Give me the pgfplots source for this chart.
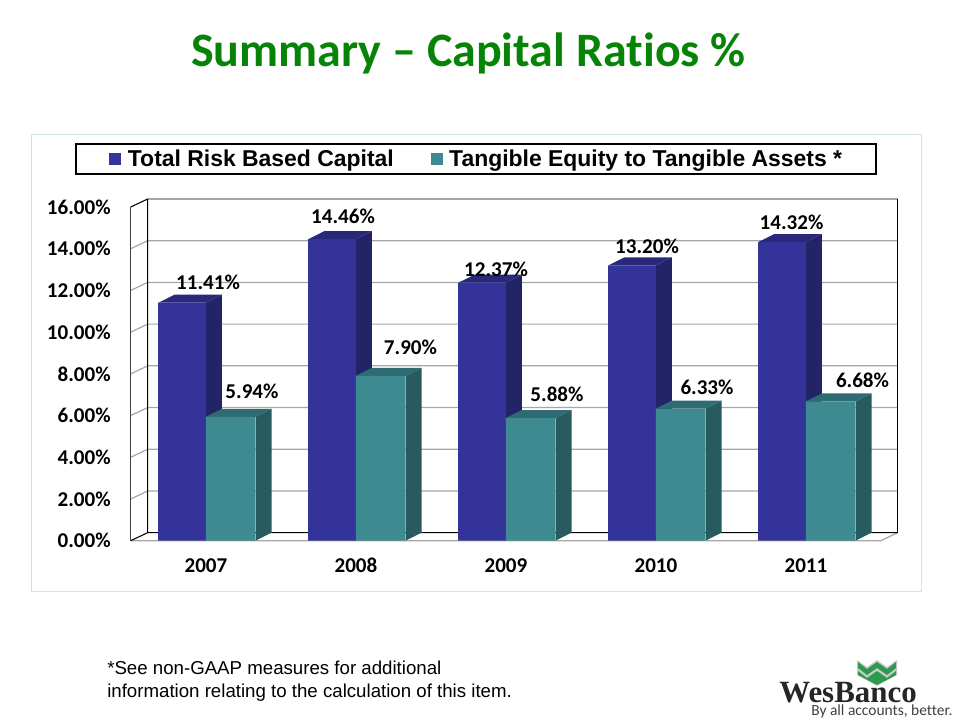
\documentclass[border=0pt]{standalone}
\usepackage{pgfplots}
\usepackage{fontspec}
\pgfplotsset{compat=1.18}
\setmainfont{Carlito}[Ligatures=NoCommon]
\newfontfamily\arialf{Liberation Sans}
\newfontfamily\serifl{Liberation Serif}
\definecolor{bfront}{HTML}{333399}
\definecolor{bside}{HTML}{232368}
\definecolor{btop}{HTML}{29297C}
\definecolor{tfront}{HTML}{3D8A91}
\definecolor{tside}{HTML}{285B60}
\definecolor{ttop}{HTML}{2F6C72}
\definecolor{gridg}{HTML}{A6A6A6}
\definecolor{frame}{HTML}{D0E4E6}
\definecolor{titleg}{HTML}{078407}
\definecolor{logog}{HTML}{2E9A4E}
\pgfplotsset{
 gl/.style={gridg,line width=0.9pt},
 bl/.style={black,line width=0.8pt},
}
\begin{document}
\begin{tikzpicture}[x=0.75pt,y=-0.75pt]
\useasboundingbox (0,0) rectangle (960,720);
\node[font=\fontsize{36}{40}\selectfont\bfseries,text=titleg,anchor=base] at (468.5,66.7) {Summary – Capital Ratios \%};
\draw[frame,line width=0.7pt] (31,134) rectangle (921,591);
\begin{axis}[
 at={(98.025pt,-405.525pt)},anchor=south west,
 scale only axis,width=575.25pt,height=256.275pt,
 xmin=0,xmax=5.1133,ymin=0,ymax=16.384,
 clip=false,axis line style={draw=none},major tick length=0pt,
 xtick={0.5,1.5,2.5,3.5,4.5},xticklabels={2007,2008,2009,2010,2011},
 ytick={0,2,4,6,8,10,12,14,16},
 yticklabels={0.00\%,2.00\%,4.00\%,6.00\%,8.00\%,10.00\%,12.00\%,14.00\%,16.00\%},
 tick label style={font=\fontsize{15.8}{18}\selectfont\bfseries},
 yticklabel style={anchor=east,xshift=-11.5pt},
 xticklabel style={anchor=center,yshift=-18.5pt,text height=10.5pt,text depth=0pt,xshift=0.2pt},
 legend style={at={(0.4502,1.117)},anchor=center,draw=black,line width=1.5pt,
   legend columns=2,font=\arialf\fontsize{17.2}{20}\selectfont\bfseries,
   inner xsep=23.75pt,inner ysep=2.5pt,
   /tikz/column 2/.style={column sep=24pt}},
 legend cell align=left,
 legend image code/.code={\fill[#1] (0pt,-4.5pt) rectangle (9pt,4.5pt);\path (-1.5pt,0pt) (12pt,0pt);},
]
\addlegendimage{draw=none,fill=bfront}
\addlegendentry{Total Risk Based Capital}
\addlegendimage{draw=none,fill=tfront}
\addlegendentry{Tangible Equity to Tangible Assets *}
% walls and grid
\addplot[gl] coordinates {(0,2) (0.1133,2.384) (5.1133,2.384)};
\addplot[gl] coordinates {(0,4) (0.1133,4.384) (5.1133,4.384)};
\addplot[gl] coordinates {(0,6) (0.1133,6.384) (5.1133,6.384)};
\addplot[gl] coordinates {(0,8) (0.1133,8.384) (5.1133,8.384)};
\addplot[gl] coordinates {(0,10) (0.1133,10.384) (5.1133,10.384)};
\addplot[gl] coordinates {(0,12) (0.1133,12.384) (5.1133,12.384)};
\addplot[gl] coordinates {(0,14) (0.1133,14.384) (5.1133,14.384)};
\addplot[gl] coordinates {(0.1133,16.384) (5.1133,16.384)};
\addplot[gl] coordinates {(0,0) (5,0) (5.1133,0.384)};
\addplot[bl] coordinates {(0,0) (0.1133,0.384) (5.1133,0.384)};
\addplot[bl] coordinates {(0.1133,0.384) (0.1133,16.384) (0,16)};
\addplot[bl] coordinates {(5.1133,0.384) (5.1133,16.384)};
\addplot[black!75,line width=1.1pt] coordinates {(0,0) (0,16)};
% Total Risk Based Capital: side and top faces
\addplot[fill=bside,draw=none] coordinates {(0.5,0) (0.607,0.384) (0.607,11.794) (0.5,11.41)} -- cycle;
\addplot[fill=btop,draw=none] coordinates {(0.184,11.41) (0.291,11.794) (0.607,11.794) (0.5,11.41)} -- cycle;
\addplot[fill=bside,draw=none] coordinates {(1.5,0) (1.607,0.384) (1.607,14.844) (1.5,14.46)} -- cycle;
\addplot[fill=btop,draw=none] coordinates {(1.184,14.46) (1.291,14.844) (1.607,14.844) (1.5,14.46)} -- cycle;
\addplot[fill=bside,draw=none] coordinates {(2.5,0) (2.607,0.384) (2.607,12.754) (2.5,12.37)} -- cycle;
\addplot[fill=btop,draw=none] coordinates {(2.184,12.37) (2.291,12.754) (2.607,12.754) (2.5,12.37)} -- cycle;
\addplot[fill=bside,draw=none] coordinates {(3.5,0) (3.607,0.384) (3.607,13.584) (3.5,13.20)} -- cycle;
\addplot[fill=btop,draw=none] coordinates {(3.184,13.20) (3.291,13.584) (3.607,13.584) (3.5,13.20)} -- cycle;
\addplot[fill=bside,draw=none] coordinates {(4.5,0) (4.607,0.384) (4.607,14.704) (4.5,14.32)} -- cycle;
\addplot[fill=btop,draw=none] coordinates {(4.184,14.32) (4.291,14.704) (4.607,14.704) (4.5,14.32)} -- cycle;
\addplot[ybar,bar width=35.8pt,bar shift=0pt,fill=bfront,draw=none] coordinates {(0.342,11.41) (1.342,14.46) (2.342,12.37) (3.342,13.20) (4.342,14.32)};
% Tangible Equity: side and top faces
\addplot[fill=tside,draw=none] coordinates {(0.832,0) (0.939,0.384) (0.939,6.324) (0.832,5.94)} -- cycle;
\addplot[fill=ttop,draw=none] coordinates {(0.5,5.94) (0.607,6.324) (0.939,6.324) (0.832,5.94)} -- cycle;
\addplot[fill=tside,draw=none] coordinates {(1.832,0) (1.939,0.384) (1.939,8.284) (1.832,7.90)} -- cycle;
\addplot[fill=ttop,draw=none] coordinates {(1.5,7.90) (1.607,8.284) (1.939,8.284) (1.832,7.90)} -- cycle;
\addplot[fill=tside,draw=none] coordinates {(2.832,0) (2.939,0.384) (2.939,6.264) (2.832,5.88)} -- cycle;
\addplot[fill=ttop,draw=none] coordinates {(2.5,5.88) (2.607,6.264) (2.939,6.264) (2.832,5.88)} -- cycle;
\addplot[fill=tside,draw=none] coordinates {(3.832,0) (3.939,0.384) (3.939,6.714) (3.832,6.33)} -- cycle;
\addplot[fill=ttop,draw=none] coordinates {(3.5,6.33) (3.607,6.714) (3.939,6.714) (3.832,6.33)} -- cycle;
\addplot[fill=tside,draw=none] coordinates {(4.832,0) (4.939,0.384) (4.939,7.064) (4.832,6.68)} -- cycle;
\addplot[fill=ttop,draw=none] coordinates {(4.5,6.68) (4.607,7.064) (4.939,7.064) (4.832,6.68)} -- cycle;
\addplot[ybar,bar width=37.1pt,bar shift=0pt,fill=tfront,draw=none] coordinates {(0.666,5.94) (1.666,7.90) (2.666,5.88) (3.666,6.33) (4.666,6.68)};
\end{axis}
% data labels
\tikzset{dl/.style={font=\fontsize{15.8}{18}\selectfont\bfseries,anchor=center,inner sep=0pt}}
\node[dl] at (208,282.5) {11.41\%};
\node[dl] at (343,216.5) {14.46\%};
\node[dl] at (496,269) {12.37\%};
\node[dl] at (647,246) {13.20\%};
\node[dl] at (791.5,222.5) {14.32\%};
\node[dl] at (252,391.7) {5.94\%};
\node[dl] at (410.5,347.5) {7.90\%};
\node[dl] at (557,394) {5.88\%};
\node[dl] at (707,387.5) {6.33\%};
\node[dl] at (862.5,380.5) {6.68\%};
% footnote
\node[font=\arialf\fontsize{14}{17.25}\selectfont,anchor=north west,inner sep=0pt,align=left] at (107,661) {*See non-GAAP measures for additional\\information relating to the calculation of this item.};
% logo
\fill[gridg!60] (857,660) -- (867,667) -- (877,660) -- (887,667) -- (897,660) -- (897,675) -- (877,686) -- (857,675) -- cycle;
\fill[logog] (858,662) -- (867,669) -- (877,662) -- (887,669) -- (896,662) -- (896,668) -- (887,675) -- (877,668) -- (867,675) -- (858,668) -- cycle;
\fill[logog] (858,671) -- (867,678) -- (877,671) -- (887,678) -- (896,671) -- (896,675) -- (877,685) -- (858,675) -- cycle;
\node[font=\serifl\fontsize{23.2}{26}\selectfont\bfseries,text=black!85,anchor=base west,inner sep=0pt] at (779,702) {WesBanco};
\node[font=\fontsize{11.6}{13}\selectfont,text=black!75,anchor=base west,inner sep=0pt] at (811,715.5) {By all accounts, better.};
\end{tikzpicture}
\end{document}
